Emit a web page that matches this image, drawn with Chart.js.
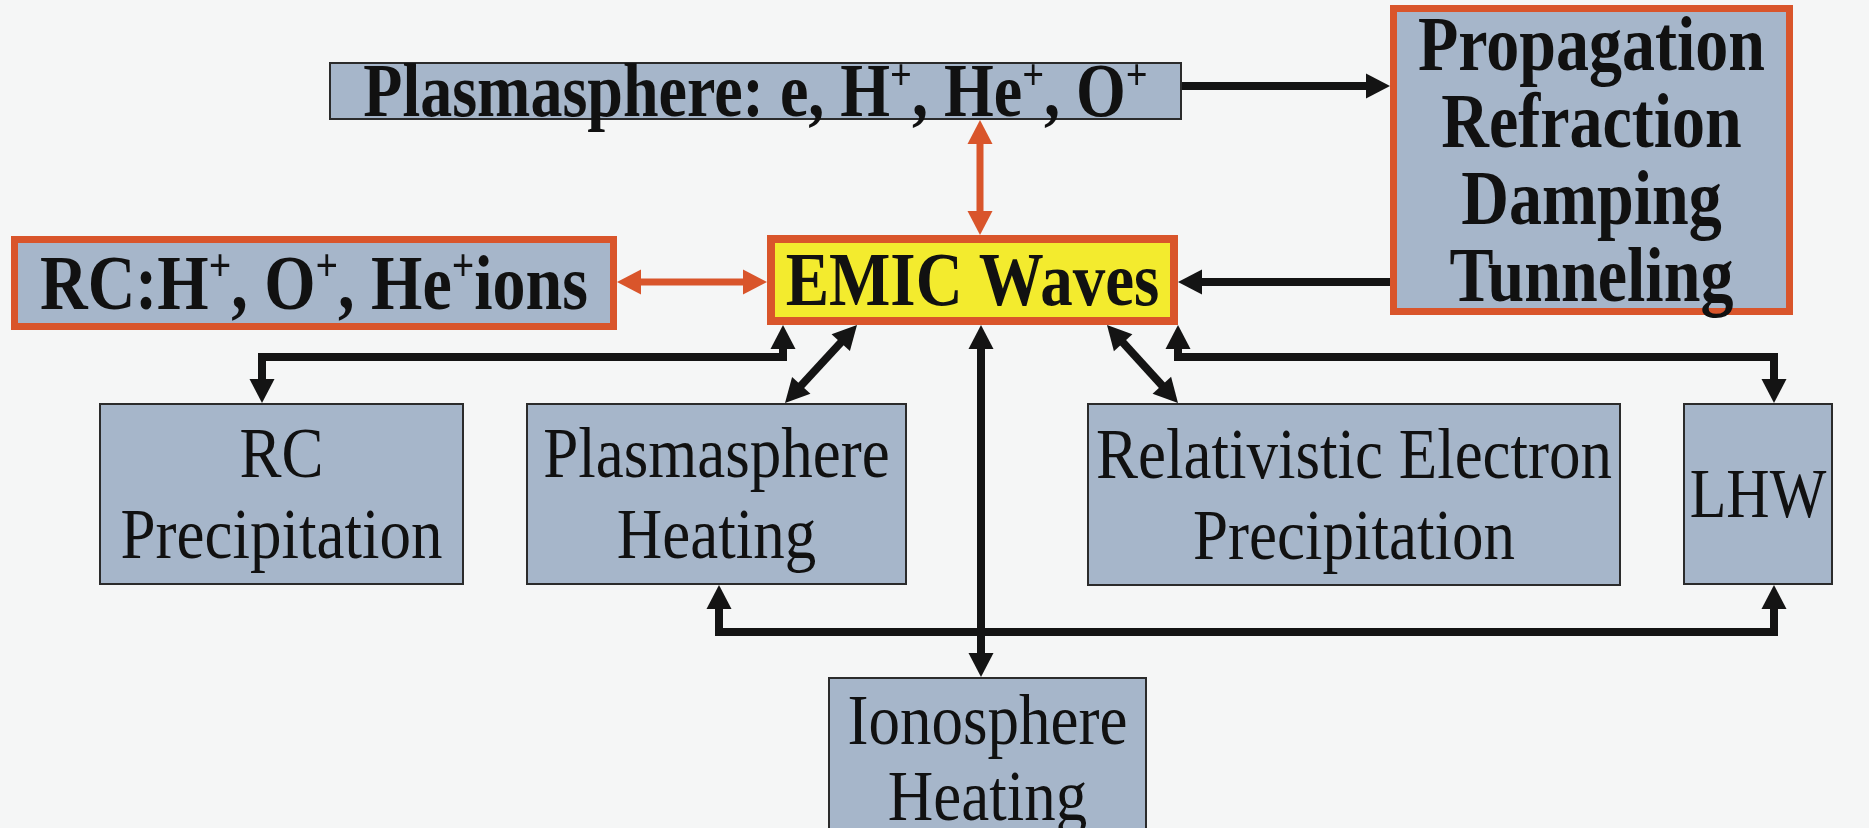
<!DOCTYPE html>
<html><head><meta charset="utf-8">
<script src="https://cdn.jsdelivr.net/npm/chart.js@4"></script>
<style>html,body{margin:0;padding:0;background:#f5f6f6;}#wrap{width:1869px;height:828px;position:relative;}</style>
</head><body><div id="wrap"><canvas id="c"></canvas></div>
<script>
// ---- Diagram data (diagram units: x 0..1869, y 0..828 top-down) ----
const nodeNames = ['plasmasphere','propagation','rcIons','emic','rcPrecip','psHeating','relElectron','lhw','ionosphere'];
const nodeLines = [
  ['Plasmasphere: e, H^+, He^+, O^+'],
  ['Propagation','Refraction','Damping','Tunneling'],
  ['RC:H^+, O^+, He^+ions'],
  ['EMIC Waves'],
  ['RC','Precipitation'],
  ['Plasmasphere','Heating'],
  ['Relativistic Electron','Precipitation'],
  ['LHW'],
  ['Ionosphere','Heating']
];
const nodeLeft   = [329, 1390,  11,  767,  99, 526, 1087, 1683,  828];
const nodeRight  = [1182,1793, 617, 1178, 464, 907, 1621, 1833, 1147];
const nodeTop    = [62,    5, 236,  235, 403, 403,  403,  403,  677];
const nodeBottom = [120, 315, 330,  325, 585, 585,  586,  585,  839];
const nodeKind   = ['medium','process','medium','wave','effect','effect','effect','effect','effect'];

// edges: polylines
const edgeX = [[1182,1390],[980,980],[617,767],[1390,1178],[783,783,262,262],[857,785],[981,981],[1107,1178],[1178,1178,1774,1774],[719,719,1774,1774]];
const edgeY = [[86,86],[120,235],[282,282],[282,282],[325,357,357,403],[325,403],[325,677],[325,403],[325,357,357,403],[585,632,632,585]];
const edgeStartArrow = [false,true,true,false,true,true,true,true,true,true];
const edgeEndArrow   = [true,true,true,true,true,true,true,true,true,true];
const edgeKind = ['flow','coupling','coupling','flow','flow','flow','flow','flow','flow','flow'];

// ---- Styles ----
const BG = '#f5f6f6';
const FILL = {medium:'#a6b6ca', process:'#a6b6ca', wave:'#f3eb2e', effect:'#a6b6ca'};
const BORDER = {medium:'#2b2b2b', process:'#d9552b', wave:'#d9552b', effect:'#2b2b2b'};
const BORDER_W = {medium:2, process:7, wave:8, effect:2};
const BORDER_OVERRIDE = {rcIons:['#d9552b',7]};
const FONT_BOLD = {medium:true, process:true, wave:true, effect:false};
const FONT_SIZE = {plasmasphere:64, propagation:66, rcIons:66, emic:65, rcPrecip:63, psHeating:63, relElectron:63, lhw:60, ionosphere:63};
const LINE_H = {propagation:77, rcPrecip:81, psHeating:81, relElectron:81, ionosphere:76};
const SCALE_Y = {bold:1.18, regular:1.15};
const EDGE_COLOR = {flow:'#141414', coupling:'#d9552b'};
const EDGE_W = {flow:8, coupling:7};
const HEAD_L = 24, HEAD_W = 25;

function parseRuns(s){
  const runs=[]; const parts=s.split('^+');
  parts.forEach((p,i)=>{ if(p) runs.push({t:p,sup:false}); if(i<parts.length-1) runs.push({t:'+',sup:true}); });
  return runs;
}

const diagramPlugin = {
  id:'diagram',
  beforeDatasetsDraw(chart){
    const ctx=chart.ctx, xs=chart.scales.x, ys=chart.scales.y;
    const X=v=>xs.getPixelForValue(v), Y=v=>ys.getPixelForValue(v);
    ctx.save();
    ctx.fillStyle=BG; ctx.fillRect(0,0,chart.width,chart.height);
    // nodes
    nodeNames.forEach((name,i)=>{
      const kind=nodeKind[i];
      const x0=X(nodeLeft[i]), x1=X(nodeRight[i]), y0=Y(nodeTop[i]), y1=Y(nodeBottom[i]);
      let bc=BORDER[kind], bw=BORDER_W[kind];
      if(BORDER_OVERRIDE[name]){bc=BORDER_OVERRIDE[name][0]; bw=BORDER_OVERRIDE[name][1];}
      ctx.fillStyle=bc; ctx.fillRect(x0,y0,x1-x0,y1-y0);
      ctx.fillStyle=FILL[kind]; ctx.fillRect(x0+bw,y0+bw,x1-x0-2*bw,y1-y0-2*bw);
      // text
      const bold=FONT_BOLD[kind]; const fs=FONT_SIZE[name]; const sy=bold?SCALE_Y.bold:SCALE_Y.regular;
      const lines=nodeLines[i]; const lh=LINE_H[name]||fs*1.2;
      const cx=(x0+x1)/2, cy=(y0+y1)/2;
      const cap=fs*0.662*sy;
      lines.forEach((ln,k)=>{
        const runs=parseRuns(ln);
        const base=cy+(k-(lines.length-1)/2)*lh+cap/2;
        let total=0;
        runs.forEach(r=>{ ctx.font=(bold?'bold ':'')+(r.sup?fs*0.6:fs)+'px "Liberation Serif"'; r.w=ctx.measureText(r.t).width; total+=r.w; });
        let x=cx-total/2;
        ctx.fillStyle='#111';
        runs.forEach(r=>{
          ctx.save(); ctx.translate(x,base); ctx.scale(1,sy);
          ctx.font=(bold?'bold ':'')+(r.sup?fs*0.6:fs)+'px "Liberation Serif"';
          ctx.textBaseline='alphabetic';
          ctx.fillText(r.t,0,r.sup?-fs*0.36:0);
          ctx.restore(); x+=r.w;
        });
      });
    });
    // edges
    edgeX.forEach((ex,i)=>{
      const ey=edgeY[i]; const col=EDGE_COLOR[edgeKind[i]]; const lw=EDGE_W[edgeKind[i]];
      const pts=ex.map((v,k)=>[X(v),Y(ey[k])]);
      const trim=(a,b)=>{const dx=a[0]-b[0],dy=a[1]-b[1],d=Math.hypot(dx,dy);return [a[0]-dx/d*HEAD_L*0.9,a[1]-dy/d*HEAD_L*0.9];};
      const drawPts=pts.map(p=>p.slice());
      if(edgeStartArrow[i]) drawPts[0]=trim(pts[0],pts[1]);
      const n=pts.length;
      if(edgeEndArrow[i]) drawPts[n-1]=trim(pts[n-1],pts[n-2]);
      ctx.strokeStyle=col; ctx.lineWidth=lw; ctx.lineJoin='miter'; ctx.lineCap='butt';
      ctx.beginPath(); drawPts.forEach((p,k)=>k?ctx.lineTo(p[0],p[1]):ctx.moveTo(p[0],p[1])); ctx.stroke();
      const head=(tip,from)=>{
        const dx=tip[0]-from[0],dy=tip[1]-from[1],d=Math.hypot(dx,dy),ux=dx/d,uy=dy/d;
        const bx=tip[0]-ux*HEAD_L, by=tip[1]-uy*HEAD_L;
        ctx.fillStyle=col; ctx.beginPath(); ctx.moveTo(tip[0],tip[1]);
        ctx.lineTo(bx-uy*HEAD_W/2,by+ux*HEAD_W/2); ctx.lineTo(bx+uy*HEAD_W/2,by-ux*HEAD_W/2); ctx.closePath(); ctx.fill();
      };
      if(edgeStartArrow[i]) head(pts[0],pts[1]);
      if(edgeEndArrow[i]) head(pts[n-1],pts[n-2]);
    });
    ctx.restore();
  }
};

const centers = nodeNames.map((n,i)=>({x:(nodeLeft[i]+nodeRight[i])/2, y:(nodeTop[i]+nodeBottom[i])/2}));
new Chart(document.getElementById('c'),{
  type:'scatter',
  data:{datasets:[{label:'nodes',data:centers,pointRadius:0,pointHoverRadius:0}]},
  options:{
    responsive:true, maintainAspectRatio:false, animation:false,
    layout:{padding:0},
    plugins:{legend:{display:false},tooltip:{enabled:false}},
    scales:{
      x:{type:'linear',min:0,max:1869,display:false},
      y:{type:'linear',min:0,max:828,reverse:true,display:false}
    }
  },
  plugins:[diagramPlugin]
});
</script></body></html>
